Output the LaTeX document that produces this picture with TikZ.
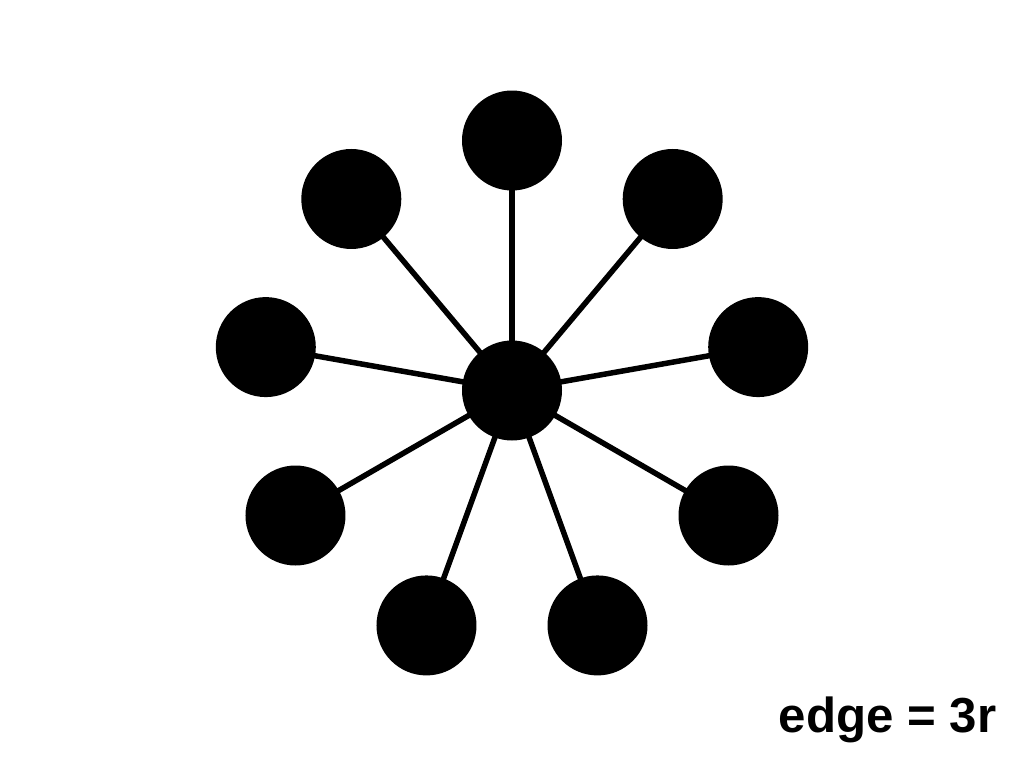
\documentclass[tikz,border=0pt]{standalone}
\usepackage{fontspec}
\setmainfont{Liberation Sans}
\usetikzlibrary{backgrounds}

\tikzset{dot/.style={circle, fill=black, inner sep=0pt, minimum size=1cm}, spoke/.style={line width=0.055cm}}

\begin{document}
\begin{tikzpicture}
\useasboundingbox (0,0) rectangle (10.24,-7.68);
\node[dot] (hub) at (5.12,-3.905) {};
\foreach \a [count=\i] in {90,50,10,-30,-70,-110,-150,170,130}
    \node[dot] (leaf\i) at ([shift={(\a:2.50)}]hub) {};
\begin{scope}[on background layer]
\foreach \i in {1,...,9}
    \draw[spoke] (hub.center) -- (leaf\i.center);
\end{scope}
\node[anchor=base east, inner sep=0pt] (label) at (9.97,-7.32) {\fontsize{14}{16}\selectfont\bfseries edge = 3r};
\end{tikzpicture}
\end{document}
